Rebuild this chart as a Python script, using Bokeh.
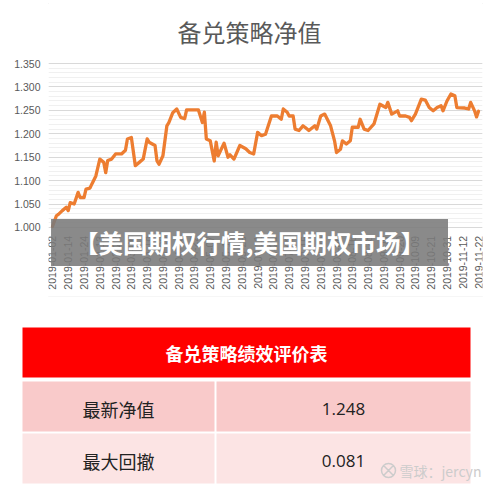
import math
from bokeh.plotting import figure
from bokeh.models import (SingleIntervalTicker, Range1d, Label, NumeralTickFormatter)
from bokeh.core.properties import value
from bokeh.embed import file_html
from bokeh.resources import INLINE

# ---------------- data ----------------
chart_title = "备兑策略净值"
day_index = [0, 2, 3, 5, 7, 8, 9, 11, 13, 14, 16, 17, 19, 20, 22, 24, 26, 27, 28, 30,
             32, 35, 37, 38, 40, 42, 44, 46, 48, 49, 52, 53, 54, 56, 58, 59, 61, 63, 65, 67,
             68, 74, 76, 77, 78, 80, 82, 83, 84, 87, 89, 90, 92, 95, 98, 100, 102, 104, 106, 108,
             111, 114, 116, 117, 119, 120, 122, 123, 125, 127, 128, 130, 133, 134, 136, 138, 141, 143, 144, 146,
             147, 149, 151, 152, 155, 156, 158, 160, 163, 166, 169, 170, 172, 175, 176, 179, 181, 182, 184, 187,
             189, 191, 193, 195, 197, 198, 200, 202, 204, 205, 209, 211, 212, 214, 215, 216]
nav = [1.002, 1.025, 1.028, 1.036, 1.043, 1.036, 1.053, 1.050, 1.075, 1.064, 1.064, 1.082, 1.084, 1.093, 1.110, 1.146, 1.139, 1.117, 1.143, 1.146,
       1.157, 1.157, 1.165, 1.189, 1.192, 1.132, 1.139, 1.146, 1.189, 1.182, 1.175, 1.142, 1.135, 1.153, 1.217, 1.224, 1.245, 1.253, 1.235, 1.232,
       1.251, 1.251, 1.224, 1.246, 1.189, 1.185, 1.142, 1.182, 1.153, 1.180, 1.150, 1.155, 1.146, 1.175, 1.168, 1.160, 1.157, 1.203, 1.196, 1.199,
       1.238, 1.238, 1.231, 1.253, 1.246, 1.238, 1.238, 1.210, 1.207, 1.217, 1.214, 1.207, 1.217, 1.210, 1.238, 1.242, 1.217, 1.185, 1.160, 1.167,
       1.185, 1.178, 1.185, 1.214, 1.214, 1.231, 1.210, 1.207, 1.221, 1.263, 1.256, 1.267, 1.242, 1.249, 1.238, 1.238, 1.235, 1.228, 1.242, 1.274,
       1.272, 1.256, 1.249, 1.256, 1.260, 1.249, 1.270, 1.285, 1.281, 1.256, 1.255, 1.253, 1.267, 1.249, 1.236, 1.248]
tick_index = [0, 8, 16, 24, 32, 40, 48, 56, 64, 72, 80, 88, 96, 104, 112, 120, 128, 136,
              144, 152, 160, 168, 176, 184, 192, 200, 208, 216]
tick_labels = ["2019-01-02", "2019-01-14", "2019-01-24", "2019-02-13", "2019-02-22", "2019-03-06",
               "2019-03-18", "2019-03-28", "2019-04-10", "2019-04-22", "2019-05-07", "2019-05-17",
               "2019-05-29", "2019-06-11", "2019-06-21", "2019-07-03", "2019-07-15", "2019-07-25",
               "2019-08-06", "2019-08-16", "2019-08-28", "2019-09-09", "2019-09-20", "2019-10-09",
               "2019-10-21", "2019-10-31", "2019-11-12", "2019-11-22"]
table_title = "备兑策略绩效评价表"
metric_names = ["最新净值", "最大回撤"]
metric_values = ["1.248", "0.081"]
banner_text = "【美国期权行情,美国期权市场】"
watermark_text = "雪球：jercyn"

CJK = "Noto Sans CJK SC"
LAT = "Liberation Sans"
GREY = "#595959"

# ---------------- line chart ----------------
# the frame spans the whole chart box; gridlines/axis are bounded to 1.000-1.350
p = figure(width=500, height=300, x_range=Range1d(-2.014, 218.014), y_range=Range1d(0.8527, 1.4845),
           output_backend="svg", toolbar_location=None, x_axis_location=None, title=None,
           min_border_left=48, min_border_right=18, min_border_top=0, min_border_bottom=4)
p.styles = {"outline": "1px solid #d9d9d9", "outline-offset": "-4px"}
p.outline_line_color = None
p.background_fill_color = "white"
p.border_fill_color = "white"

p.xgrid.grid_line_color = None
p.ygrid.grid_line_color = "#d9d9d9"
p.ygrid.minor_grid_line_color = "#f0f0f0"
p.ygrid.bounds = (0.999, 1.351)

p.yaxis.ticker = SingleIntervalTicker(interval=0.05, num_minor_ticks=5)
p.yaxis.formatter = NumeralTickFormatter(format="0.000")
p.yaxis.bounds = (0.999, 1.351)
p.yaxis.axis_line_color = None
p.yaxis.major_tick_line_color = None
p.yaxis.minor_tick_line_color = None
p.yaxis.major_tick_out = 0
p.yaxis.minor_tick_out = 0
p.yaxis.major_label_text_font = LAT
p.yaxis.major_label_text_font_size = "10.5px"
p.yaxis.major_label_text_color = GREY
p.yaxis.major_label_standoff = 8

p.line(day_index, nav, line_color="#ED7D31", line_width=3.3, line_join="round", line_cap="round")

# chart title
p.text(x=[99.9], y=[1.4185], text=[chart_title], text_align="center", text_baseline="middle",
       text_font=value(CJK), text_font_size="24px", text_color=GREY)

# date tick labels (vertical, reading upward), hanging below the 1.000 line
p.text(x=tick_index, y=[0.982] * len(tick_index), text=tick_labels, angle=math.pi / 2,
       text_align="right", text_baseline="middle", text_font=value(LAT),
       text_font_size="10.5px", text_color=GREY)

banner = Label(x=99.9, y=0.968, text=banner_text, text_color="white",
               text_font=CJK, text_font_style="bold", text_font_size="24.5px",
               text_align="center", text_baseline="middle",
               background_fill_color="#7a7a7a", background_fill_alpha=0.88,
               padding=dict(left=23, right=23, top=6, bottom=6))
p.add_layout(banner)

# ---------------- table ----------------
t = figure(width=500, height=188, x_range=Range1d(0, 500), y_range=Range1d(188, 0),
           output_backend="svg", toolbar_location=None, min_border=0,
           x_axis_location=None, y_axis_location=None)
t.outline_line_color = None
t.xgrid.grid_line_color = None
t.ygrid.grid_line_color = None
t.background_fill_color = "white"
t.border_fill_color = "white"

t.quad(left=[22], right=[470], top=[27], bottom=[77], fill_color="#FF0000", line_color=None)
t.text(x=[246], y=[52], text=[table_title], text_color="white", text_font=value(CJK),
       text_font_style="bold", text_font_size="18px", text_align="center", text_baseline="middle")

row_fill = ["#F9CACA", "#FCE4E4"]
n = len(metric_names)
tops = [81 + 52 * i for i in range(n)]
bots = [tp + 50 for tp in tops]
t.quad(left=[22] * n, right=[214] * n, top=tops, bottom=bots, fill_color=row_fill, line_color=None)
t.quad(left=[216] * n, right=[470] * n, top=tops, bottom=bots, fill_color=row_fill, line_color=None)
mids = [tp + 27 for tp in tops]
t.text(x=[118] * n, y=mids, text=metric_names, text_color="#222222", text_font=value(CJK),
       text_font_size="18px", text_align="center", text_baseline="middle")
t.text(x=[343] * n, y=mids, text=metric_values, text_color="#222222", text_font=value("Open Sans"),
       text_font_size="17px", text_align="center", text_baseline="middle")

t.scatter(x=[388], y=[170], marker="circle_x", size=14, fill_color=None,
          line_color="#cccccc", line_width=1.5)
t.text(x=[399], y=[170], text=[watermark_text], text_color="#cccccc", text_font=value(CJK),
       text_font_size="14px", text_align="left", text_baseline="middle")

open("out.html", "w").write(file_html([p, t], INLINE))
